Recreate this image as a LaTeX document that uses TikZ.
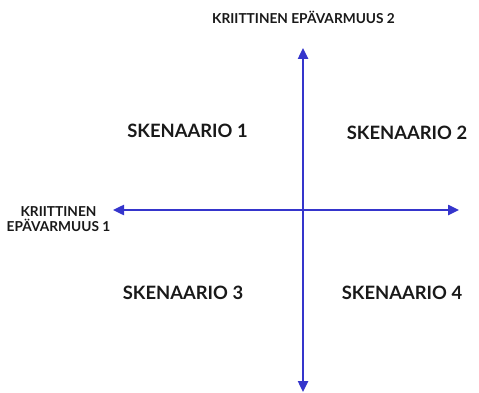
\documentclass[tikz,border=0pt]{standalone}
\usepackage{fontspec}
\setmainfont{Lato}
\usetikzlibrary{arrows.meta}
\definecolor{axisblue}{HTML}{3535CC}
\begin{document}
\begin{tikzpicture}[x=1pt,y=-1pt,
  axis/.style={draw=axisblue,line width=2.4pt,-{Triangle[length=11pt,width=10pt]}},
  scen/.style={font=\fontsize{18.4}{22}\selectfont\bfseries,inner sep=0pt,text=black!90},
  lab/.style={font=\fontsize{13.7}{15}\selectfont\bfseries,inner sep=0pt,align=center,text=black!90}]
\useasboundingbox (0,0) rectangle (479,393);
\coordinate (c) at (303,210);
\coordinate (top) at (303,48);
\coordinate (bot) at (303,392);
\coordinate (lft) at (113,210);
\coordinate (rgt) at (459,210);
\draw[axis] (c) -- (top);
\draw[axis] (c) -- (bot);
\draw[axis] (c) -- (lft);
\draw[axis] (c) -- (rgt);
\node[lab] (u2) at (303.5,17) {KRIITTINEN EPÄVARMUUS 2};
\node[lab] (u1) at (58.5,219.5) {KRIITTINEN\\EPÄVARMUUS 1};
\node[scen] (s1) at (187.5,131) {SKENAARIO 1};
\node[scen] (s2) at (407,133) {SKENAARIO 2};
\node[scen] (s3) at (183,293) {SKENAARIO 3};
\node[scen] (s4) at (402,293) {SKENAARIO 4};
\end{tikzpicture}
\end{document}
